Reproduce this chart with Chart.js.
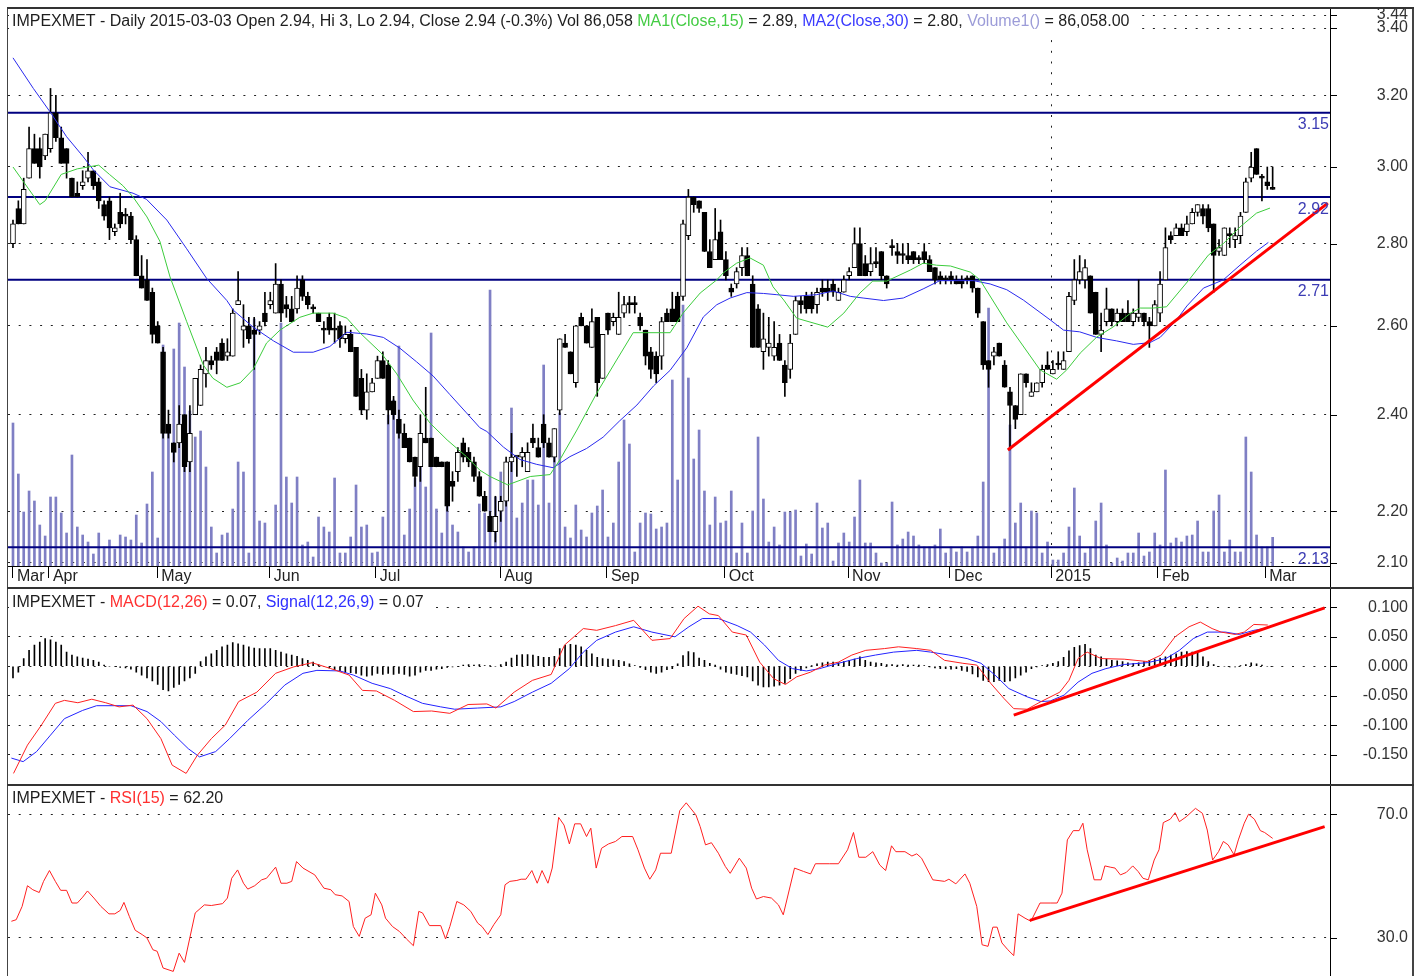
<!DOCTYPE html>
<html>
<head>
<meta charset="utf-8">
<script src="https://cdn.jsdelivr.net/npm/chart.js@4/dist/chart.umd.min.js"></script>
<style>
    html, body { margin: 0; padding: 0; background: #fff; }
    #wrap { position: relative; width: 1423px; height: 976px; overflow: hidden; background: #fff; }
    canvas { position: absolute; left: 0; }
</style>
</head>
<body>
<div id="wrap">
    <canvas id="priceCanvas" width="1423" height="590" style="top:0"></canvas>
    <canvas id="macdCanvas" width="1423" height="194" style="top:590px"></canvas>
    <canvas id="rsiCanvas" width="1423" height="192" style="top:784px"></canvas>
</div>
<script>
// ---- daily candles, 2014-03 .. 2015-03-03 (one entry per session) ----
const opens = [2.80,2.89,2.85,2.97,3.05,3.05,3.03,3.05,3.15,3.08, 3.05,2.97,2.93,2.95,2.97,2.99,2.96,2.90,2.91,2.83,
    2.88,2.87,2.87,2.81,2.72,2.71,2.68,2.60,2.54,2.38, 2.34,2.34,2.40,2.30,2.40,2.42,2.49,2.52,2.54,2.56,
    2.53,2.53,2.65,2.59,2.60,2.59,2.59,2.63,2.65,2.63, 2.70,2.65,2.64,2.64,2.71,2.67,2.64,2.63,2.59,2.62,
    2.59,2.60,2.57,2.58,2.55,2.48,2.41,2.45,2.48,2.52, 2.51,2.43,2.39,2.36,2.35,2.31,2.29,2.35,2.35,2.31,
    2.30,2.30,2.26,2.28,2.34,2.32,2.30,2.27,2.23,2.19, 2.16,2.20,2.22,2.30,2.31,2.31,2.28,2.35,2.33,2.38,
    2.34,2.31,2.41,2.56,2.54,2.47,2.62,2.60,2.55,2.62, 2.48,2.63,2.61,2.58,2.63,2.65,2.65,2.62,2.59,2.54,
    2.53,2.53,2.63,2.64,2.67,2.67,2.82,2.92,2.91,2.88, 2.78,2.76,2.83,2.76,2.69,2.70,2.74,2.77,2.70,2.64,
    2.54,2.55,2.53,2.56,2.51,2.50,2.58,2.66,2.67,2.67, 2.65,2.69,2.69,2.70,2.66,2.68,2.72,2.74,2.80,2.75,
    2.73,2.75,2.78,2.72,2.79,2.78,2.77,2.77,2.78,2.76, 2.78,2.76,2.74,2.72,2.71,2.72,2.71,2.71,2.71,2.72,
    2.69,2.61,2.52,2.53,2.56,2.51,2.45,2.42,2.40,2.49, 2.44,2.45,2.47,2.51,2.49,2.51,2.50,2.54,2.66,2.71,
    2.71,2.72,2.68,2.58,2.61,2.64,2.61,2.63,2.63,2.61, 2.62,2.63,2.61,2.60,2.63,2.71,2.82,2.82,2.84,2.83,
    2.85,2.88,2.89,2.89,2.85,2.78,2.77,2.82,2.81,2.82, 2.88,2.97,3.05,2.97,2.96,2.94];
const highs = [2.86,2.91,2.97,3.11,3.09,3.08,3.09,3.22,3.20,3.11, 3.05,2.97,2.96,2.99,3.04,2.99,2.97,2.91,2.92,2.85,
    2.93,2.89,2.88,2.82,2.77,2.76,2.69,2.61,2.55,2.41, 2.34,2.42,2.40,2.42,2.48,2.51,2.55,2.53,2.55,2.57,
    2.57,2.64,2.73,2.65,2.62,2.62,2.61,2.68,2.68,2.75, 2.71,2.67,2.67,2.72,2.72,2.68,2.65,2.63,2.61,2.63,
    2.63,2.61,2.60,2.59,2.55,2.50,2.49,2.48,2.53,2.54, 2.52,2.44,2.41,2.38,2.35,2.31,2.40,2.46,2.35,2.31,
    2.30,2.30,2.28,2.33,2.35,2.33,2.31,2.28,2.24,2.20, 2.23,2.23,2.31,2.36,2.31,2.33,2.34,2.38,2.35,2.40,
    2.35,2.37,2.57,2.58,2.54,2.60,2.63,2.60,2.64,2.62, 2.58,2.63,2.63,2.68,2.67,2.67,2.67,2.63,2.59,2.55,
    2.54,2.62,2.64,2.68,2.68,2.86,2.94,2.92,2.91,2.88, 2.81,2.89,2.86,2.78,2.70,2.74,2.79,2.79,2.72,2.65,
    2.63,2.62,2.61,2.58,2.52,2.58,2.67,2.67,2.68,2.68, 2.69,2.71,2.71,2.71,2.69,2.72,2.74,2.84,2.84,2.77,
    2.79,2.79,2.78,2.72,2.81,2.80,2.80,2.80,2.78,2.77, 2.80,2.77,2.74,2.73,2.72,2.73,2.72,2.72,2.72,2.72,
    2.69,2.61,2.52,2.55,2.56,2.52,2.46,2.42,2.49,2.49, 2.47,2.47,2.51,2.54,2.52,2.54,2.54,2.68,2.76,2.77,
    2.76,2.72,2.68,2.63,2.69,2.64,2.64,2.64,2.66,2.64, 2.71,2.63,2.62,2.66,2.73,2.84,2.83,2.85,2.85,2.87,
    2.89,2.90,2.90,2.90,2.85,2.81,2.84,2.84,2.84,2.88, 2.97,3.04,3.05,2.98,3.00,3.00];
const lows = [2.79,2.85,2.85,2.97,3.01,2.97,3.02,3.04,3.07,3.01, 2.97,2.92,2.92,2.94,2.96,2.94,2.89,2.86,2.81,2.82,
    2.84,2.85,2.80,2.72,2.69,2.66,2.56,2.56,2.35,2.35, 2.30,2.33,2.28,2.28,2.40,2.42,2.46,2.50,2.49,2.52,
    2.52,2.53,2.65,2.55,2.56,2.50,2.58,2.60,2.64,2.63, 2.61,2.62,2.61,2.63,2.66,2.64,2.63,2.61,2.56,2.58,
    2.56,2.55,2.56,2.54,2.44,2.40,2.39,2.45,2.48,2.48, 2.38,2.39,2.35,2.33,2.30,2.25,2.26,2.34,2.29,2.29,
    2.29,2.20,2.22,2.26,2.30,2.29,2.26,2.23,2.20,2.16, 2.14,2.18,2.21,2.28,2.27,2.29,2.28,2.33,2.31,2.33,
    2.31,2.30,2.40,2.55,2.49,2.46,2.60,2.56,2.55,2.44, 2.48,2.58,2.60,2.58,2.62,2.63,2.63,2.59,2.51,2.48,
    2.47,2.50,2.61,2.61,2.61,2.66,2.81,2.88,2.88,2.78, 2.74,2.76,2.76,2.71,2.67,2.69,2.72,2.72,2.55,2.55,
    2.50,2.53,2.52,2.52,2.44,2.48,2.58,2.63,2.63,2.63, 2.63,2.67,2.66,2.67,2.66,2.68,2.71,2.74,2.72,2.72,
    2.72,2.74,2.71,2.69,2.77,2.75,2.75,2.75,2.75,2.75, 2.75,2.73,2.70,2.70,2.70,2.70,2.70,2.69,2.70,2.68,
    2.62,2.50,2.46,2.51,2.53,2.46,2.325,2.37,2.40,2.46, 2.44,2.45,2.46,2.50,2.49,2.50,2.50,2.54,2.65,2.70,
    2.69,2.63,2.58,2.54,2.60,2.60,2.60,2.61,2.61,2.60, 2.61,2.60,2.55,2.60,2.61,2.71,2.80,2.82,2.82,2.82,
    2.85,2.87,2.85,2.83,2.68,2.77,2.77,2.79,2.79,2.80, 2.88,2.96,2.98,2.91,2.94,2.94];
const closes = [2.85,2.85,2.94,3.05,3.01,3.00,3.09,3.15,3.08,3.01, 3.01,2.92,2.92,2.96,2.99,2.95,2.91,2.87,2.84,2.84,
    2.85,2.87,2.81,2.72,2.69,2.66,2.58,2.56,2.36,2.36, 2.32,2.38,2.29,2.36,2.48,2.50,2.52,2.51,2.52,2.52,
    2.54,2.63,2.66,2.60,2.57,2.58,2.60,2.61,2.66,2.70, 2.63,2.64,2.61,2.69,2.67,2.65,2.64,2.61,2.59,2.59,
    2.59,2.57,2.58,2.54,2.44,2.41,2.45,2.47,2.52,2.48, 2.41,2.40,2.36,2.33,2.30,2.27,2.36,2.34,2.29,2.29,
    2.29,2.21,2.25,2.32,2.31,2.30,2.27,2.23,2.20,2.16, 2.19,2.22,2.30,2.31,2.31,2.32,2.32,2.34,2.31,2.34,
    2.31,2.37,2.57,2.55,2.49,2.60,2.60,2.56,2.61,2.47, 2.58,2.59,2.62,2.62,2.65,2.65,2.65,2.60,2.53,2.50,
    2.49,2.61,2.61,2.61,2.61,2.85,2.92,2.90,2.89,2.78, 2.74,2.81,2.76,2.72,2.68,2.73,2.77,2.72,2.55,2.55,
    2.57,2.56,2.55,2.52,2.47,2.56,2.66,2.65,2.64,2.64, 2.68,2.68,2.68,2.68,2.68,2.71,2.73,2.80,2.72,2.72,
    2.75,2.75,2.72,2.70,2.79,2.77,2.77,2.76,2.76,2.76, 2.76,2.73,2.71,2.71,2.71,2.71,2.70,2.70,2.71,2.69,
    2.63,2.51,2.50,2.54,2.53,2.46,2.42,2.39,2.49,2.47, 2.45,2.47,2.50,2.50,2.50,2.51,2.52,2.67,2.71,2.73,
    2.74,2.63,2.58,2.59,2.64,2.61,2.63,2.61,2.61,2.63, 2.63,2.61,2.60,2.65,2.70,2.79,2.81,2.84,2.82,2.85,
    2.88,2.90,2.87,2.84,2.77,2.79,2.84,2.82,2.82,2.87, 2.96,3.00,2.98,2.97,2.95,2.94];
// volume, thousands of shares
const volumes = [429,276,162,225,195,123,90,207,207,159, 99,333,117,93,72,36,99,57,78,51,
    93,87,78,153,69,186,282,84,663,399, 651,729,597,465,387,405,297,117,39,93,
    99,171,312,282,39,741,135,129,57,183, 729,267,189,267,63,72,27,147,117,102,
    264,39,39,87,243,117,123,39,42,147, 453,498,660,93,171,264,390,237,699,171,
    99,183,123,102,57,42,57,186,159,828, 207,282,309,474,144,189,258,258,183,603,
    189,402,459,117,84,183,108,87,159,180, 228,87,129,312,438,366,42,129,159,156,
    111,117,129,558,258,783,564,321,408,225, 123,207,129,135,225,39,129,39,165,387,
    201,72,117,63,162,162,168,30,66,36, 189,114,129,15,69,99,72,147,258,69,
    69,39,9,9,192,63,81,102,90,63, 57,57,63,111,39,57,42,57,42,57,
    90,252,774,39,57,81,423,129,189,57, 165,159,39,72,18,18,39,117,234,90,
    39,57,135,189,63,9,24,15,39,39, 99,30,42,99,63,288,69,84,72,90,
    93,135,42,42,165,213,42,78,42,42, 387,282,93,57,57,86.058];

// moving averages: [session, price]
const ma15 = [[0,3.00],[5,2.90],[6,2.91],[9,2.98],[12,2.995],[16,3.005],[18,2.98],[20.5,2.95],[22.4,2.92],[25,2.868],
    [27.4,2.806],[29.3,2.717],[32.4,2.61],[35.5,2.51],[37.3,2.48],[39.9,2.46],[42.4,2.47],[44.8,2.50],[47.3,2.56],[49.8,2.59],
    [53.5,2.62],[56,2.63],[59.7,2.63],[62.3,2.618],[64.7,2.584],[68.7,2.537],[71.6,2.49],[74.6,2.432],[77.8,2.382],[81,2.346],
    [84.6,2.311],[87.1,2.283],[89,2.27],[92.3,2.253],[96.5,2.27],[100.2,2.274],[102,2.304],[105.2,2.367],[108.9,2.447],[112.6,2.521],
    [115.7,2.584],[122.6,2.584],[125,2.63],[128.2,2.678],[131.3,2.71],[132.5,2.727],[135,2.751],[137.5,2.764],[140,2.746],[141.2,2.71],
    [141.8,2.693],[143.8,2.661],[146.2,2.618],[152,2.597],[155,2.63],[158,2.678],[160.4,2.707],[163,2.707],[167.4,2.734],[169.8,2.751],
    [172.3,2.746],[174.9,2.744],[178.6,2.729],[180.4,2.71],[185.4,2.607],[191.6,2.499],[194.7,2.478],[196.6,2.499],[199.1,2.537],[202.2,2.574],
    [205.2,2.597],[208.5,2.63],[210.3,2.642],[212.7,2.642],[215.2,2.645],[219.4,2.71],[223,2.771],[225.8,2.80],[228.9,2.842],[232,2.878],[234.5,2.891]];
const ma30 = [[0,3.31],[3.8,3.22],[6.9,3.153],[10,3.083],[13.1,3.028],[15,2.992],[18.1,2.947],[22.4,2.93],[24.9,2.914],[28.7,2.86],
    [32.4,2.787],[36.1,2.714],[39.9,2.66],[41.1,2.637],[44.8,2.597],[48.6,2.565],[52.3,2.539],[56,2.539],[59.1,2.552],[62.3,2.585],
    [66,2.581],[69.1,2.573],[72.2,2.548],[75.3,2.517],[78.4,2.485],[81.5,2.444],[84.6,2.404],[87.1,2.372],[88.4,2.364],[91.5,2.331],
    [94.6,2.305],[97.7,2.295],[100.8,2.288],[103.9,2.311],[107,2.328],[110.1,2.352],[113.2,2.387],[116.4,2.421],[119.5,2.463],[122.6,2.498],
    [125.7,2.549],[128.8,2.621],[131.3,2.65],[133.8,2.666],[136.9,2.679],[140,2.677],[142.5,2.674],[145.6,2.67],[149.9,2.674],[153,2.683],
    [156.2,2.67],[158.6,2.666],[162.4,2.66],[166.1,2.666],[169.8,2.688],[172.9,2.708],[179.2,2.708],[182.3,2.70],[185.4,2.686],[188.5,2.661],
    [193.5,2.614],[196,2.59],[199,2.586],[202.2,2.573],[205.9,2.565],[209,2.557],[212.1,2.561],[214,2.573],[216.9,2.611],[219,2.647],
    [222.1,2.69],[225.8,2.71],[228.9,2.746],[232,2.781],[234.2,2.803]];
const levels = [3.15, 2.92, 2.71, 2.13];
const priceTrend = [[185.6, 2.325], [245.3, 2.904]];
const priceTicks = [2.10, 2.20, 2.40, 2.60, 2.80, 3.00, 3.20, 3.40, 3.44];

// MACD(12,26) / signal(9) / histogram
const macdLine = [[0.1,-0.182],[2.7,-0.134],[5.3,-0.100],[7.9,-0.063],[9.6,-0.058],[12.1,-0.062],[14.7,-0.056],[17.3,-0.062],[19.8,-0.069],[22.4,-0.066],
    [25,-0.089],[27.6,-0.123],[29.7,-0.168],[32.3,-0.182],[34.4,-0.151],[37,-0.123],[39.6,-0.100],[42.1,-0.060],[45.5,-0.044],[49,-0.012],
    [52.4,-0.001],[55.8,0.006],[59.3,-0.004],[62.7,-0.015],[65.2,-0.041],[67.8,-0.042],[71.2,-0.058],[74.7,-0.077],[78.1,-0.076],[81.5,-0.080],
    [84.9,-0.065],[88.4,-0.064],[90.1,-0.071],[93.5,-0.044],[96.9,-0.024],[100.4,-0.014],[102.9,0.036],[106.4,0.064],[108.9,0.061],[112.4,0.069],
    [115.8,0.078],[119.2,0.044],[122.6,0.047],[125.2,0.081],[127.8,0.102],[129.9,0.089],[131.6,0.086],[134.2,0.058],[136.8,0.053],[139.3,0.007],
    [141.9,-0.021],[144.1,-0.031],[146.2,-0.018],[148.8,-0.010],[151.4,0.002],[154,0.007],[156.5,0.019],[159.1,0.027],[162.6,0.030],[165.2,0.033],
    [168.6,0.030],[171.2,0.027],[173.8,0.010],[177.2,0.005],[179.8,0.002],[182.4,-0.029],[184.9,-0.055],[186.7,-0.072],[189.2,-0.073],[191.8,-0.060],
    [195.3,-0.044],[197,-0.024],[198.7,0.013],[200.4,0.024],[203,0.013],[207.3,0.012],[211.6,0.008],[214.2,0.019],[216.8,0.050],[219.4,0.067],
    [221.5,0.075],[223.7,0.064],[225.4,0.058],[228,0.054],[229.7,0.058],[231.5,0.071],[234.1,0.070]];
const signalLine = [[-0.3,-0.156],[1.9,-0.162],[4.4,-0.145],[7,-0.117],[9.6,-0.089],[13,-0.075],[15.6,-0.067],[19,-0.067],[22,-0.067],[25,-0.077],
    [27.6,-0.094],[30.1,-0.117],[32.7,-0.140],[34.8,-0.154],[37.8,-0.145],[40.4,-0.123],[43.8,-0.092],[47.3,-0.063],[50.7,-0.032],[54.1,-0.012],
    [56.7,-0.007],[61,-0.008],[63.5,-0.015],[67,-0.029],[70.4,-0.038],[72.9,-0.049],[76.4,-0.063],[79.8,-0.069],[82.4,-0.073],[86.7,-0.071],
    [91,-0.069],[93.5,-0.060],[96.9,-0.044],[100.4,-0.029],[103.8,-0.004],[106.4,0.024],[108.9,0.044],[112.4,0.058],[115.8,0.067],[119.2,0.058],
    [123.5,0.050],[126.1,0.067],[128.6,0.081],[131.6,0.081],[135.1,0.069],[137.6,0.058],[140.2,0.036],[142.8,0.010],[145.4,-0.004],[148,-0.008],
    [150.5,-0.004],[154,0.005],[157.4,0.013],[160.9,0.019],[164.3,0.024],[168.6,0.027],[171.2,0.024],[174.6,0.019],[178,0.013],[180.6,0.005],
    [183.2,-0.015],[185.8,-0.038],[189.2,-0.052],[191.8,-0.060],[193.5,-0.059],[196.1,-0.049],[198.7,-0.027],[201.3,-0.012],[203.9,-0.004],[207.3,0.003],
    [211.6,0.006],[215.1,0.013],[217.6,0.027],[220.2,0.047],[222.8,0.058],[226.2,0.058],[228.8,0.054],[231.5,0.061],[234.1,0.065]];
const macdHist = [-0.020,-0.010,0.013,0.027,0.036,0.041,0.047,0.045,0.041,0.036, 0.024,0.019,0.016,0.014,0.012,0.010,0.007,0.002,0.000,0.000,
    -0.002,-0.003,-0.005,-0.010,-0.015,-0.020,-0.025,-0.031,-0.040,-0.042, -0.036,-0.031,-0.025,-0.020,-0.012,0.008,0.016,0.021,0.027,0.033,
    0.036,0.040,0.038,0.036,0.033,0.031,0.030,0.030,0.030,0.027, 0.024,0.021,0.019,0.017,0.013,0.010,0.007,0.003,0.000,-0.003,
    -0.006,-0.008,-0.010,-0.011,-0.012,-0.015,-0.017,-0.015,-0.012,-0.014, -0.012,-0.014,-0.012,-0.014,-0.017,-0.015,-0.010,-0.007,-0.007,-0.005,
    -0.004,-0.002,-0.001,0.000,0.002,0.003,0.002,0.003,0.001,0.001, 0.000,0.003,0.007,0.014,0.019,0.020,0.020,0.019,0.017,0.015,
    0.015,0.017,0.030,0.036,0.037,0.036,0.033,0.027,0.021,0.015, 0.013,0.012,0.011,0.010,0.008,0.004,0.001,-0.002,-0.006,-0.010,
    -0.012,-0.010,-0.006,-0.004,0.004,0.018,0.025,0.023,0.014,0.010, 0.005,0.002,-0.005,-0.010,-0.012,-0.014,-0.016,-0.018,-0.025,-0.032,
    -0.035,-0.035,-0.034,-0.032,-0.029,-0.021,-0.012,-0.007,-0.003,0.001, 0.004,0.006,0.007,0.007,0.006,0.008,0.010,0.012,0.016,0.010,
    0.007,0.006,0.005,0.003,0.003,0.002,0.003,0.002,0.002,0.002, 0.001,-0.001,-0.003,-0.004,-0.004,-0.005,-0.004,-0.007,-0.009,-0.013,
    -0.018,-0.024,-0.026,-0.026,-0.024,-0.026,-0.025,-0.020,-0.015,-0.010, -0.004,-0.001,0.001,0.003,0.005,0.008,0.015,0.026,0.032,0.035,
    0.037,0.030,0.019,0.016,0.012,0.010,0.009,0.008,0.006,0.005, 0.006,0.008,0.010,0.012,0.014,0.016,0.019,0.021,0.024,0.025,
    0.024,0.022,0.016,0.008,0.003,0.000,0.000,-0.001,-0.001,0.001, 0.003,0.006,0.004,0.002,0.000,0.000];
const macdTrend = [[186.7, -0.083], [244.7, 0.099]];
const macdTicks = [-0.15, -0.10, -0.05, 0, 0.05, 0.10];

// RSI(15)
const rsiLine = [[-0.3,35.4],[0.6,35.9],[1.7,40.2],[2.7,46.9],[3.7,45.6],[4.9,44.7],[5.7,48.3],[6.8,51.8],[7.9,48.3],[8.9,45.4],
    [10,45.4],[11,41.3],[12,41.3],[13,43.2],[13.9,45.2],[15.1,42.9],[16.4,40.2],[17.9,37.8],[19,37.8],[20,38.9],
    [20.7,41.5],[21.7,37.0],[22.8,32.5],[24.1,31.1],[25,30.0],[26.1,26.2],[26.9,25.7],[28,20.3],[29.9,19.2],[31,25.1],
    [32,22.1],[34,38.1],[35.7,40.7],[37,40.5],[39.1,41.1],[40,42.9],[40.8,49.3],[41.9,52.0],[43,47.7],[43.8,45.8],
    [45.1,46.9],[46.4,48.8],[47.3,49.3],[49,52.9],[50,47.7],[51.1,47.7],[52,48.3],[52.9,54.7],[54.1,52.6],[56.3,50.4],
    [58,46.1],[59.3,45.6],[60.1,44.0],[61.4,43.6],[62.7,41.8],[63.5,33.7],[64.6,30.5],[65.7,36.4],[66.8,37.5],[67.6,44.5],
    [68.8,40.7],[69.5,36.4],[70.8,33.7],[72.1,32.1],[73.4,29.7],[74.7,27.5],[75.7,38.6],[76.4,38.1],[77.7,34.0],[79.8,34.0],
    [80.7,29.7],[81.5,33.7],[82.8,41.8],[84.1,40.7],[85.4,38.6],[86.7,34.8],[87.5,33.7],[88.6,31.1],[89.7,34.3],[91,37.5],
    [91.8,47.2],[92.7,48.3],[94,48.6],[94.8,49.0],[95.7,49.0],[96.8,51.8],[97.8,47.7],[98.7,51.8],[99.8,47.7],[100.6,52.6],
    [101.8,69.0],[102.8,66.5],[103.8,60.4],[104.8,66.9],[105.9,66.9],[107,62.8],[107.8,65.5],[108.8,52.6],[109.8,59.0],[111.1,60.4],
    [112.4,61.2],[113.6,62.8],[115.6,62.8],[116.6,58.5],[117.8,52.6],[118.8,49.0],[119.9,52.0],[120.8,57.4],[122.8,57.4],[124.4,71.2],
    [125.6,73.7],[127.4,69.8],[128.2,66.0],[129.2,60.1],[130.3,60.8],[131.6,57.4],[132.9,53.1],[133.8,50.9],[135.5,55.8],[136.8,52.6],
    [137.8,46.1],[138.7,42.6],[140,43.4],[141.5,42.9],[142.8,40.7],[143.7,37.5],[145.8,52.6],[147.5,51.5],[148.8,50.7],[149.7,54.0],
    [152.3,54.0],[154,54.0],[155.7,58.5],[156.8,64.1],[157.8,56.1],[159.1,56.1],[160.4,57.9],[161.7,53.6],[162.8,51.8],[163.9,59.8],
    [164.7,57.9],[166.4,57.9],[167.7,56.5],[168.6,57.2],[169.5,55.8],[171.6,48.8],[173.8,48.3],[174.6,49.0],[175.9,47.5],[177.6,50.7],
    [178.5,47.7],[179.8,40.2],[180.8,27.8],[181.9,27.3],[182.8,33.5],[183.6,33.5],[184.5,28.4],[185.6,26.2],[186.7,24.3],[187.5,37.8],
    [188.8,36.4],[189.9,35.4],[191.6,41.3],[193.5,41.3],[194.8,41.3],[195.7,44.5],[196.7,61.7],[197.8,64.7],[198.9,64.7],[199.6,67.1],
    [200.4,58.5],[201.7,48.8],[203,48.8],[203.7,53.3],[204.7,52.9],[205.6,52.6],[206.6,50.4],[207.7,51.2],[208.9,53.3],[209.9,51.5],
    [210.8,49.3],[211.8,48.8],[212.9,55.2],[213.8,58.5],[214.6,67.3],[215.9,68.4],[216.8,70.5],[217.6,67.6],[218.9,69.2],[220.6,71.9],
    [221.9,70.3],[222.8,64.9],[223.8,55.2],[224.9,57.9],[225.8,61.2],[226.7,60.1],[227.8,56.9],[228.6,61.7],[229.7,67.1],[230.5,70.0],
    [231.6,68.4],[232.7,64.7],[233.5,64.1],[235,62.2]];
const rsiTrend = [[189.7, 35.7], [244.7, 66.0]];
const rsiTicks = [30, 70];

// x axis: month starts (session position) and their labels
const monthPos = [0, 6.7, 26.9, 47.9, 67.7, 90.9, 110.8, 132.8, 155.8, 174.8, 193.7, 213.6, 233.6];
const monthLabels = ['Mar', 'Apr', 'May', 'Jun', 'Jul', 'Aug', 'Sep', 'Oct', 'Nov', 'Dec', '2015', 'Feb', 'Mar'];

const X_MIN = -0.93, X_MAX = 245.7;
const FAMILY = '"Liberation Sans", Arial, Helvetica, sans-serif';
const FONT = '16px ' + FAMILY;
const DOTS = [2, 8.7];

Chart.defaults.font.family = FAMILY;
Chart.defaults.font.size = 16;
Chart.defaults.color = '#333';

const xy = arr => arr.map(([x, y]) => ({ x, y }));
const sessions = closes.map((c, i) => i);

function lineSet(data, color, width, order, axis) {
    return { type: 'line', yAxisID: axis || 'y', data, borderColor: color, borderWidth: width,
             pointRadius: 0, fill: false, tension: 0, order };
}

function hiddenX() {
    return { type: 'linear', min: X_MIN, max: X_MAX, display: false, offset: false, grid: { offset: false } };
}

// right value axis (1330..1408, labels flush right); visible tick marks come from the frame plugin
function rightAxis(extra) {
    return Object.assign({
        type: 'linear', position: 'right',
        afterFit: s => { s.width = 78; },
        grid: { color: '#222', lineWidth: 1, drawTicks: true, tickLength: 6,
                tickColor: 'rgba(0,0,0,0)', tickBorderDash: [] },
        border: { display: false, dash: DOTS }
    }, extra);
}

function tickFont() { return { size: 16, lineHeight: 0.05 }; }

function drawHeader(ctx, x, baseline, parts, boxTop, boxBottom) {
    ctx.font = FONT;
    const w = parts.reduce((s, p) => s + ctx.measureText(p[0]).width, 0);
    ctx.fillStyle = '#fff';
    ctx.fillRect(x - 3, boxTop, w + 8, boxBottom - boxTop);
    ctx.textAlign = 'left';
    ctx.textBaseline = 'alphabetic';
    let cx = x;
    parts.forEach(([t, c]) => {
        ctx.fillStyle = c;
        ctx.fillText(t, cx, baseline);
        cx += ctx.measureText(t).width;
    });
}

// frame lines, axis tick marks, panel headers and level labels
const framePlugin = {
    id: 'frame',
    afterDraw(chart, args, o) {
        const { ctx, height } = chart;
        const ys = chart.scales.y;
        ctx.save();
        const top = o.top || 0;
        ctx.fillStyle = '#444';
        ctx.fillRect(7, top, 1, height - top);
        ctx.fillRect(1412, top, 2, height - top);
        ctx.fillStyle = '#000';
        ctx.fillRect(1330, top, 1, height - top);
        ys.ticks.forEach(t => ctx.fillRect(1330, Math.round(ys.getPixelForValue(t.value)), 7, 1));
        ctx.fillStyle = '#333';
        if (o.topLine) ctx.fillRect(7, top, 1407, o.topLine);
        if (o.bottomLine) ctx.fillRect(7, height - 3, 1407, 2);

        if (o.levels) {
            ctx.font = FONT;
            ctx.textAlign = 'right';
            ctx.textBaseline = 'alphabetic';
            ctx.fillStyle = '#3c3cb4';
            o.levels.forEach(v => ctx.fillText(v.toFixed(2), 1329, ys.getPixelForValue(v) + 16.5));
        }
        if (o.header) drawHeader(ctx, 12, o.header.baseline, o.header.parts, o.header.boxTop, o.header.boxBottom);
        ctx.restore();
    }
};

const common = {
    responsive: false,
    animation: false,
    devicePixelRatio: 1,
    events: [],
};

// ---------------- price panel ----------------
const priceDatasets = [
    { type: 'bar', yAxisID: 'yv', data: volumes.map((v, i) => ({ x: i, y: v })),
      backgroundColor: '#7f7fc4', barThickness: 2, grouped: false, order: 20 },
    ...levels.map(l => lineSet([{ x: X_MIN, y: l }, { x: X_MAX, y: l }], '#000080', 2, 12)),
    { type: 'bar', yAxisID: 'y', data: sessions.map(i => ({ x: i, y: [lows[i], highs[i]] })),
      backgroundColor: '#000', barThickness: 1, grouped: false, order: 8 },
    { type: 'bar', yAxisID: 'y',
      data: sessions.map(i => ({ x: i, y: [Math.min(opens[i], closes[i]), Math.max(opens[i], closes[i])] })),
      backgroundColor: sessions.map(i => closes[i] > opens[i] ? '#fff' : '#000'),
      borderColor: '#000', borderWidth: 1, borderSkipped: false, barThickness: 5, minBarLength: 2,
      grouped: false, order: 6 },
    lineSet(xy(ma30), '#2a2aee', 1, 4),
    lineSet(xy(ma15), '#3ccc3c', 1, 3),
    lineSet(xy(priceTrend), '#ff0000', 3, 1),
];

new Chart(document.getElementById('priceCanvas'), {
    type: 'bar',
    data: { datasets: priceDatasets },
    plugins: [framePlugin],
    options: Object.assign({}, common, {
        layout: { padding: { left: 8, top: 8, right: 15, bottom: 0 } },
        plugins: {
            legend: { display: false }, tooltip: { enabled: false },
            frame: {
                top: 7, topLine: 2, bottomLine: true, levels,
                header: {
                    baseline: 26, boxTop: 9, boxBottom: 32,
                    parts: [
                        ['IMPEXMET - Daily 2015-03-03 Open 2.94, Hi 3, Lo 2.94, Close 2.94 (-0.3%) Vol 86,058 ', '#1e1e1e'],
                        ['MA1(Close,15)', '#44cc44'], [' = 2.89, ', '#1e1e1e'],
                        ['MA2(Close,30)', '#3a3aff'], [' = 2.80, ', '#1e1e1e'],
                        ['Volume1()', '#9c9cd8'], [' = 86,058.00', '#1e1e1e']
                    ]
                }
            }
        },
        scales: {
            x: {
                type: 'linear', position: 'bottom', min: X_MIN, max: X_MAX, offset: false,
                afterBuildTicks: s => { s.ticks = monthPos.map(v => ({ value: v })); },
                afterFit: s => { s.height = 24; },
                ticks: { autoSkip: false, maxRotation: 0, align: 'start', labelOffset: 4, padding: -11,
                         color: '#222', font: { size: 16 }, callback: (v, i) => monthLabels[i] },
                grid: { offset: false, drawOnChartArea: true, drawTicks: true, tickLength: 12, tickColor: '#000',
                        tickBorderDash: [], lineWidth: 1,
                        color: c => (c.tick && c.tick.value === 193.7) ? '#222' : 'rgba(0,0,0,0)' },
                border: { display: true, color: '#000', width: 1, dash: DOTS }
            },
            y: rightAxis({
                type: 'logarithmic', min: 2.0942, max: 3.462,
                afterBuildTicks: s => { s.ticks = priceTicks.map(v => ({ value: v })); },
                ticks: { autoSkip: false, crossAlign: 'far', padding: 0, color: '#333', font: tickFont(),
                         callback: v => Number(v).toFixed(2) }
            }),
            yv: { type: 'linear', display: false, min: 0, max: 1674 }
        }
    })
});

// ---------------- MACD panel ----------------
new Chart(document.getElementById('macdCanvas'), {
    type: 'bar',
    data: { datasets: [
        { type: 'bar', yAxisID: 'y', data: macdHist.map((v, i) => ({ x: i, y: v })),
          backgroundColor: '#000', barThickness: 1, grouped: false, order: 10 },
        lineSet(xy(signalLine), '#2323ff', 1, 4),
        lineSet(xy(macdLine), '#ff2020', 1, 3),
        lineSet(xy(macdTrend), '#ff0000', 3, 1),
    ] },
    plugins: [framePlugin],
    options: Object.assign({}, common, {
        layout: { padding: { left: 8, top: 0, right: 15, bottom: 1 } },
        plugins: {
            legend: { display: false }, tooltip: { enabled: false },
            frame: {
                top: 0,
                header: {
                    baseline: 17, boxTop: 1, boxBottom: 21,
                    parts: [['IMPEXMET - ', '#1e1e1e'], ['MACD(12,26)', '#ff3030'], [' = 0.07, ', '#1e1e1e'],
                            ['Signal(12,26,9)', '#3030ff'], [' = 0.07', '#1e1e1e']]
                }
            }
        },
        scales: {
            x: hiddenX(),
            y: rightAxis({
                min: -0.1983, max: 0.1288,
                afterBuildTicks: s => { s.ticks = macdTicks.map(v => ({ value: v })); },
                ticks: { autoSkip: false, crossAlign: 'far', padding: 0, color: '#333', font: tickFont(),
                         callback: v => Number(v).toFixed(3) }
            })
        }
    })
});

// ---------------- RSI panel ----------------
new Chart(document.getElementById('rsiCanvas'), {
    type: 'line',
    data: { datasets: [
        lineSet(xy(rsiLine), '#ff2020', 1, 3),
        lineSet(xy(rsiTrend), '#ff0000', 3, 1),
    ] },
    plugins: [framePlugin],
    options: Object.assign({}, common, {
        layout: { padding: { left: 8, top: 2, right: 15, bottom: 0 } },
        plugins: {
            legend: { display: false }, tooltip: { enabled: false },
            frame: {
                top: 0, topLine: 2,
                header: {
                    baseline: 19, boxTop: 3, boxBottom: 24,
                    parts: [['IMPEXMET - ', '#1e1e1e'], ['RSI(15)', '#ff3030'], [' = 62.20', '#1e1e1e']]
                }
            }
        },
        scales: {
            x: hiddenX(),
            y: rightAxis({
                min: 17.84, max: 79.13,
                afterBuildTicks: s => { s.ticks = rsiTicks.map(v => ({ value: v })); },
                ticks: { autoSkip: false, crossAlign: 'far', padding: 0, color: '#333', font: tickFont(),
                         callback: v => Number(v).toFixed(1) }
            })
        }
    })
});
</script>
</body>
</html>
